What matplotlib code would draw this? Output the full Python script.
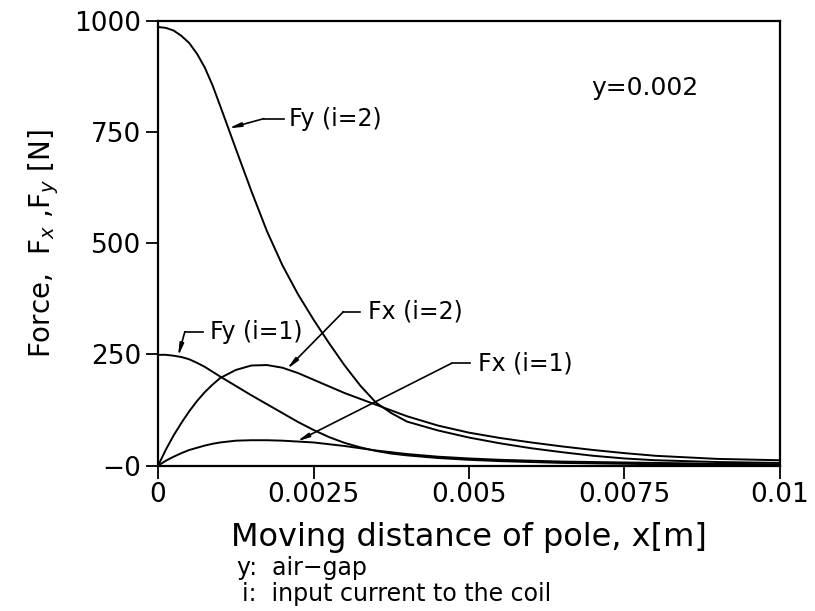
import matplotlib.pyplot as plt
import numpy as np

# values (x in m, forces in N)
x_m = [0, 0.000125, 0.00025, 0.000375, 0.0005, 0.000625, 0.00075, 0.000875,
       0.001, 0.00125, 0.0015, 0.00175, 0.002, 0.00225, 0.0025, 0.00275,
       0.003, 0.00325, 0.0035, 0.00375, 0.004, 0.0045, 0.005, 0.0055, 0.006,
       0.0065, 0.007, 0.0075, 0.008, 0.009, 0.01]
fy_i2 = [986, 984, 978, 966, 950, 926, 895, 855, 808, 712, 617, 527, 450,
         385, 328, 275, 225, 180, 142, 118, 99, 79, 63, 50, 39, 30, 22, 16,
         12, 8, 6]
fx_i2 = [0, 36, 68, 96, 122, 145, 165, 182, 197, 215, 225, 226, 220, 208,
         193, 178, 163, 150, 137, 124, 111, 90, 74, 62, 52, 43, 35, 28, 22,
         15, 12]
fy_i1 = [249, 249, 247, 244, 239, 231, 222, 211, 200, 179, 158, 138, 118,
         98, 80, 64, 51, 41, 33, 27, 23, 17, 13, 10, 8, 6, 5, 4, 3, 2, 1]
fx_i1 = [0, 11, 20, 28, 35, 40, 45, 49, 52, 56, 57, 57, 56, 54, 52, 48, 44,
         39, 34, 30, 26, 20, 16, 13, 11, 9, 8, 7, 6, 4, 3]

xticks = [0, 0.0025, 0.005, 0.0075, 0.01]
xtick_labels = ["0", "0.0025", "0.005", "0.0075", "0.01"]
yticks = [0, 250, 500, 750, 1000]
ytick_labels = ["\u22120", "250", "500", "750", "1000"]

fig = plt.figure(figsize=(8.15, 6.11), dpi=100)
ax = fig.add_axes([0.194, 0.238, 0.763, 0.728])

for s in (fy_i2, fx_i2, fy_i1, fx_i1):
    ax.plot(x_m, s, color="black", lw=1.4)

ax.set_xlim(0, 0.01)
ax.set_ylim(0, 1000)
ax.set_xticks(xticks)
ax.set_xticklabels(xtick_labels)
ax.set_yticks(yticks)
ax.set_yticklabels(ytick_labels)
ax.tick_params(direction="out", length=9, width=1.3, labelsize=19, pad=3)
for sp in ax.spines.values():
    sp.set_linewidth(1.6)

ax.set_xlabel("Moving distance of pole, x[m]", fontsize=23, labelpad=10)
ax.set_ylabel(r"Force,  F$_x$ ,F$_y$ [N]", fontsize=20, labelpad=10)


def leader(series, tip_x, elbow, end_x, text_x, text):
    tip = (tip_x, np.interp(tip_x, x_m, series))
    ax.annotate("", xy=tip, xytext=elbow,
                arrowprops=dict(arrowstyle="-|>,head_length=0.7,head_width=0.12",
                                color="black", lw=1.2, shrinkA=0, shrinkB=0))
    ax.plot([elbow[0], end_x], [elbow[1], elbow[1]], color="black", lw=1.2)
    ax.text(text_x, elbow[1], text, ha="left", va="center", fontsize=17)


leader(fy_i2, 0.00113, (0.0017, 780), 0.00203, 0.00211, "Fy (i=2)")
leader(fy_i1, 0.00032, (0.00043, 301), 0.00072, 0.00083, "Fy (i=1)")
leader(fx_i2, 0.00207, (0.00298, 346), 0.00324, 0.00338, "Fx (i=2)")
leader(fx_i1, 0.00223, (0.00472, 230), 0.00501, 0.00515, "Fx (i=1)")

ax.text(0.00697, 849, "y=0.002", ha="left", va="center", fontsize=18)

fig.text(237 / 815, 1 - 568 / 611, "y:  air\u2212gap", ha="left", va="center", fontsize=17)
fig.text(242 / 815, 1 - 594 / 611, "i:  input current to the coil", ha="left", va="center", fontsize=17)

fig.savefig("out.png", dpi=100)
